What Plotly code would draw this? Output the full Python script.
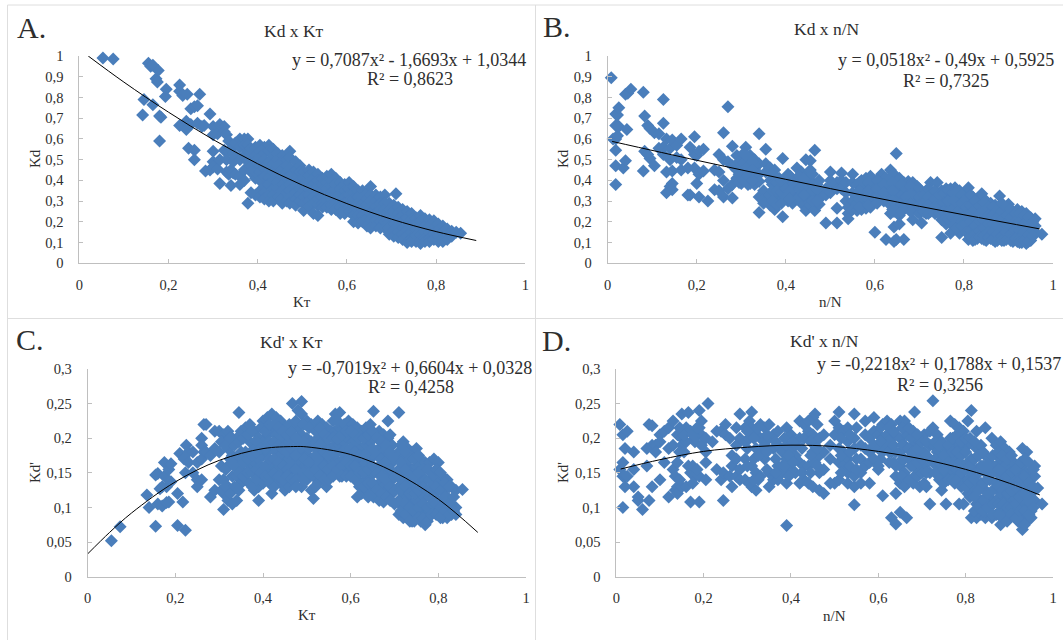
import plotly.graph_objects as go

W, H = 1063, 640

# Values, as (x, [y, y, ...]) columns
A_COLUMNS = [
(.053,[.99]),(.076,[.985]),(.142,[.715]),(.145,[.79]),(.155,[.965]),(.16,[.95]),(.165,[.955,.765]),(.172,[.89]),(.175,[.875]),(.177,[.93]),(.18,[.71,.59]),(.183,[.705]),(.193,[.805]),(.195,[.84]),(.225,[.86,.83,.665]),(.232,[.81]),(.24,[.685,.645]),(.242,[.815]),(.245,[.555]),(.25,[.745,.67]),(.258,[.755,.545,.50]),(.265,[.76,.675]),(.27,[.815]),(.275,[.66]),(.28,[.665]),(.283,[.445]),(.293,[.72,.45]),
(.30,[.66,.62,.54,.49,.465]),(.31,[.625,.455]),(.315,[.67,.385,.50]),(.325,[.66,.635,.545]),(.33,[.62,.50,.44]),(.335,[.59,.54,.43]),(.34,[.375,.55,.45]),(.345,[.53,.49,.435]),(.35,[.51,.43,.58]),(.36,[.60,.50,.42,.38,.56]),(.37,[.60,.57,.52,.45,.40]),(.378,[.60,.57,.54,.29,.49]),(.385,[.55,.52,.47,.44,.34]),(.395,[.56,.52,.49,.41,.44,.33]),
(.405,[.57,.54,.51,.47,.44,.40,.35,.32]),(.415,[.56,.53,.50,.46,.42,.37,.34,.31]),(.425,[.57,.54,.49,.45,.41,.38,.33,.30]),(.435,[.55,.52,.48,.44,.40,.36,.33,.30]),(.445,[.53,.50,.47,.43,.39,.36,.32]),(.455,[.52,.49,.45,.42,.38,.35,.31,.29]),(.465,[.50,.47,.44,.41,.37,.34,.30]),(.472,[.54,.51,.46,.42,.38,.35,.32,.29]),(.485,[.49,.45,.41,.37,.34,.31,.28]),(.495,[.47,.44,.40,.36,.33,.30]),
(.503,[.44,.41,.38,.35,.32,.29,.255]),(.515,[.45,.42,.39,.36,.33,.30,.27]),(.525,[.44,.41,.38,.35,.32,.29,.24]),(.535,[.43,.40,.37,.34,.31,.28,.23]),(.545,[.41,.38,.35,.32,.29,.27]),(.555,[.42,.39,.36,.33,.30,.27]),(.565,[.43,.40,.37,.34,.31,.28,.26]),(.575,[.41,.38,.35,.32,.29,.26]),(.585,[.39,.36,.33,.30,.27,.24]),(.595,[.38,.35,.32,.29,.26,.24]),
(.605,[.39,.36,.33,.30,.27,.25]),(.615,[.37,.34,.31,.28,.25,.23,.20]),(.625,[.35,.32,.29,.26,.23,.195]),(.635,[.35,.32,.29,.26,.23,.20]),(.645,[.34,.31,.28,.25,.22,.18]),(.653,[.37,.33,.30,.27,.24,.21,.17]),(.665,[.33,.30,.27,.24,.21,.18]),(.675,[.32,.29,.26,.23,.20,.17]),(.685,[.33,.29,.26,.23,.20,.17]),(.695,[.29,.26,.23,.20,.17,.14]),
(.705,[.28,.25,.22,.19,.16,.13]),(.71,[.335]),(.715,[.27,.24,.21,.18,.15,.125]),(.725,[.26,.23,.20,.17,.14,.115]),(.735,[.25,.22,.19,.16,.13,.10]),(.745,[.24,.21,.18,.15,.12,.105]),(.755,[.22,.19,.16,.13,.105]),(.765,[.23,.20,.17,.14,.11,.095]),(.775,[.215,.18,.15,.12,.105]),(.785,[.21,.18,.15,.12,.105]),(.795,[.205,.17,.14,.115]),
(.805,[.19,.16,.13,.105]),(.815,[.18,.15,.12,.105]),(.825,[.165,.14,.115]),(.835,[.155,.13]),(.845,[.15]),(.855,[.145]),
]
B_COLUMNS = [
(.008,[.895]),(.012,[.60]),(.018,[.72,.665,.545,.47,.38,.60]),(.022,[.715,.665,.615]),(.025,[.75,.66]),(.035,[.46]),(.04,[.815,.495]),(.043,[.645]),(.045,[.82]),(.052,[.84]),(.08,[.825,.445]),(.083,[.71,.54]),(.09,[.665,.525]),(.095,[.65,.505]),(.105,[.63,.47]),(.115,[.625,.555]),(.125,[.79,.675,.56,.525]),(.132,[.60,.44,.34]),(.14,[.555,.50,.37]),(.145,[.595,.445,.385,.355]),(.155,[.57,.51]),(.165,[.60,.50,.45]),(.18,[.46,.33]),(.185,[.56,.33]),(.195,[.61,.525,.46]),(.20,[.385,.52]),(.205,[.54,.43,.32]),(.215,[.55,.445]),(.225,[.30]),(.24,[.45,.355]),(.25,[.525,.44,.35]),(.26,[.63,.50,.40,.32]),(.27,[.755,.49,.36]),(.28,[.565,.47,.38,.315]),(.29,[.52,.45,.41]),
(.30,[.505,.46,.42,.385]),(.31,[.56,.49,.45,.40]),(.32,[.52,.47,.43,.385]),(.33,[.50,.46,.41,.38]),(.34,[.625,.48,.43,.395,.245,.32]),(.35,[.35,.31,.29]),(.355,[.55,.48,.44]),(.365,[.46,.40,.33,.28]),(.375,[.45,.36,.31,.26]),(.385,[.41,.37,.33,.30]),(.393,[.505,.36,.31,.225]),
(.405,[.43,.39,.34,.30]),(.415,[.38,.33,.29]),(.425,[.46,.41,.37,.31]),(.435,[.44,.39,.34,.29]),(.445,[.50,.42,.36,.31,.255]),(.455,[.495,.45,.40,.33,.28]),(.465,[.545,.37,.33,.255]),(.475,[.40,.35,.31,.285]),(.49,[.36,.33,.195]),(.50,[.44,.40,.37,.34]),(.515,[.39,.36,.265,.195]),(.525,[.435,.40,.36]),(.535,[.39,.34,.30]),(.54,[.24,.215,.27]),(.55,[.43,.39,.34,.30,.26]),(.56,[.38,.33,.29,.255]),(.57,[.40,.36,.32,.28,.26]),(.58,[.41,.37,.33,.29,.265]),(.59,[.42,.38,.34,.30,.27]),
(.60,[.38,.34,.30,.15]),(.615,[.43,.39,.35]),(.625,[.41,.37,.33,.115]),(.635,[.45,.36,.32,.28,.24]),(.643,[.43,.38,.33,.29,.25,.175,.105]),(.648,[.53,.115]),(.655,[.41,.36,.32,.27,.23,.19]),(.665,[.39,.34,.30,.26,.115]),(.675,[.395,.35,.31,.27]),(.685,[.39,.35,.31,.27,.21]),(.695,[.37,.33,.29,.25]),
(.705,[.34,.30,.26,.195]),(.715,[.35,.31,.27,.24]),(.725,[.39,.33,.29,.25]),(.74,[.39,.34,.30,.26]),(.75,[.35,.30,.26,.21,.125]),(.76,[.36,.32,.27,.23,.19]),(.77,[.36,.32,.28,.24,.20,.145]),(.78,[.365,.31,.27,.23,.19]),(.79,[.35,.31,.26,.22,.145]),
(.80,[.33,.29,.25,.21,.17]),(.81,[.365,.30,.26,.22,.18,.115]),(.82,[.32,.28,.24,.20,.16,.11]),(.83,[.30,.26,.22,.18,.14,.12]),(.84,[.335,.27,.23,.19,.15,.12]),(.85,[.30,.25,.21,.17,.13,.11]),(.86,[.29,.24,.20,.16,.12]),(.87,[.28,.24,.20,.16,.12,.105]),(.88,[.325,.27,.23,.19,.15,.12]),(.89,[.26,.22,.18,.14,.11]),
(.90,[.285,.24,.20,.16,.125]),(.91,[.25,.21,.17,.13,.105]),(.92,[.26,.22,.18,.14,.105]),(.93,[.25,.21,.17,.13,.10]),(.94,[.24,.20,.16,.12,.095]),(.95,[.22,.18,.14,.11]),(.96,[.215,.18,.15]),(.975,[.14]),
]
B_DENSE = [
(.295,[.49,.43,.39]),(.305,[.53,.48,.44,.40]),(.315,[.51,.47,.42,.38]),(.325,[.49,.45,.40]),(.37,[.43,.38,.35,.30]),(.38,[.39,.35,.28]),(.39,[.40,.34,.29]),(.40,[.41,.36,.32]),(.41,[.42,.35,.31]),(.43,[.42,.36,.32]),(.44,[.41,.37,.33]),(.46,[.43,.38,.35,.30]),(.47,[.38,.36,.30]),
(.565,[.39,.35,.31,.27]),(.585,[.39,.35,.31,.28]),(.605,[.40,.36,.32,.29]),(.62,[.38,.34,.30]),(.64,[.39,.35,.30,.26]),(.66,[.38,.33,.29,.25]),(.67,[.36,.32,.28]),(.68,[.37,.33,.29,.25]),(.70,[.36,.32,.28,.24]),(.71,[.33,.29,.25]),(.72,[.36,.32,.28,.24]),(.735,[.35,.31,.27,.24]),(.745,[.33,.28,.24]),(.755,[.34,.29,.25,.21]),(.765,[.35,.30,.25,.21]),(.775,[.34,.30,.26,.22,.18]),(.785,[.35,.29,.25,.21,.17]),(.795,[.33,.29,.24,.20,.18]),
(.805,[.31,.27,.23,.19,.15]),(.815,[.33,.28,.24,.20,.16,.13]),(.825,[.30,.26,.22,.18,.14,.115]),(.835,[.28,.24,.20,.16,.13]),(.845,[.29,.25,.21,.17,.13,.115]),(.855,[.27,.23,.19,.15,.125]),(.865,[.27,.23,.19,.15,.115]),(.875,[.26,.22,.18,.14,.11]),(.885,[.29,.25,.21,.17,.13,.11]),(.895,[.27,.23,.19,.15,.115]),(.905,[.26,.22,.18,.14,.11]),(.915,[.24,.20,.16,.12]),(.925,[.24,.20,.16,.12,.10]),(.935,[.23,.19,.15,.11]),(.945,[.22,.18,.14,.105]),(.955,[.20,.16,.13]),
]
C_COLUMNS = [
(.054,[.052]),(.074,[.072]),(.135,[.118]),(.14,[.10]),(.155,[.147,.073]),(.16,[.149,.105]),(.165,[.127]),(.17,[.13,.102]),(.175,[.165,.145]),(.18,[.13,.107]),(.185,[.108,.155]),(.19,[.163,.137]),(.205,[.12,.074]),(.21,[.178]),(.217,[.108]),(.22,[.172,.17]),(.223,[.067,.15]),(.225,[.19]),(.23,[.18,.165]),(.24,[.18,.15]),(.25,[.14,.13,.165]),(.26,[.20,.19,.17,.14]),(.265,[.22,.18]),(.27,[.22,.18]),(.28,[.175,.115]),(.29,[.21,.185,.125]),
(.30,[.21,.18,.14]),(.31,[.205,.14,.12,.097]),(.32,[.21,.185,.16,.13,.11]),(.33,[.20,.175,.145,.105]),(.34,[.20,.165,.145,.11]),(.345,[.237]),(.35,[.21,.18,.155,.135]),(.36,[.215,.18,.14]),(.37,[.22,.195,.16,.135]),(.38,[.21,.185,.165,.125]),(.39,[.20,.17,.13,.11]),
(.40,[.225,.195,.175,.135]),(.41,[.23,.205,.18,.155]),(.42,[.235,.21,.19,.16,.12]),(.43,[.23,.205,.18,.155,.14]),(.44,[.225,.20,.175,.15,.135]),(.45,[.215,.19,.165,.14,.125]),(.46,[.22,.195,.17,.15,.13]),(.467,[.25]),(.48,[.24,.215,.19,.165,.145]),(.488,[.253,.235,.205,.18,.155,.13]),
(.50,[.225,.20,.175,.16,.14]),(.51,[.22,.195,.17,.15,.125]),(.515,[.113,.215,.19,.165,.145]),(.525,[.225,.20,.175,.155,.135]),(.535,[.22,.195,.17,.15]),(.545,[.215,.19,.165,.145,.13]),(.555,[.21,.185,.165]),(.565,[.235,.21,.19,.17,.15]),(.575,[.237,.215,.19,.165,.145]),(.585,[.22,.195,.17,.15]),(.595,[.225,.20,.175,.155]),
(.605,[.22,.195,.17,.15]),(.615,[.215,.19,.165,.14,.115]),(.625,[.21,.185,.16,.135,.12]),(.635,[.215,.19,.165,.14,.125]),(.645,[.22,.195,.17,.145,.125]),(.652,[.239,.20,.175,.15,.115]),(.665,[.21,.185,.16,.135,.11]),(.675,[.205,.18,.155,.13,.108]),(.685,[.225,.20,.175,.15,.125]),(.695,[.19,.165,.14,.12]),
(.71,[.237,.18,.155,.13,.09,.11]),(.72,[.195,.17,.145,.12,.10,.085]),(.73,[.185,.16,.135,.11,.09]),(.74,[.18,.155,.13,.105,.08]),(.75,[.185,.16,.135,.11,.085]),(.76,[.17,.145,.12,.095,.08]),(.77,[.165,.14,.115,.09,.075]),(.78,[.165,.14,.115,.095]),(.79,[.17,.145,.12,.095]),
(.80,[.165,.135,.11,.09]),(.81,[.145,.125,.105,.085]),(.82,[.14,.115,.095,.085]),(.83,[.13,.105,.09]),(.84,[.125,.10,.09]),(.855,[.126]),
]
C_DENSE = [
(.305,[.195,.16,.125]),(.315,[.19,.155,.13]),(.325,[.20,.17,.12]),(.335,[.19,.16,.13]),(.345,[.195,.175,.15,.125]),(.355,[.2,.165,.145]),(.365,[.205,.17,.15]),(.375,[.21,.175,.15,.13]),(.385,[.195,.18,.155,.14]),(.395,[.215,.185,.16,.15]),
(.405,[.21,.185,.16,.145]),(.415,[.22,.195,.17,.145,.135]),(.425,[.22,.195,.17,.15,.13]),(.435,[.215,.19,.165,.145]),(.445,[.21,.185,.16,.14]),(.455,[.205,.18,.155,.145]),(.465,[.21,.185,.16,.14]),(.475,[.225,.2,.175,.155,.14,.13]),(.493,[.22,.195,.17,.15,.14]),(.505,[.215,.185,.165,.15]),(.52,[.21,.185,.175,.155,.13]),(.53,[.215,.19,.165,.145]),(.54,[.205,.18,.16,.14]),(.55,[.2,.175,.155,.14]),(.56,[.225,.2,.18,.16,.145]),(.57,[.225,.2,.18,.155]),(.58,[.205,.18,.16,.145]),(.59,[.21,.185,.165,.145]),
(.60,[.21,.185,.16,.145]),(.61,[.205,.18,.16,.14]),(.62,[.2,.175,.15,.13]),(.63,[.2,.175,.15,.13]),(.64,[.205,.18,.155,.135,.115]),(.65,[.21,.185,.16,.135]),(.66,[.2,.175,.15,.125]),(.67,[.195,.17,.145,.12]),(.68,[.19,.165,.14,.115]),(.69,[.205,.18,.155,.13,.11]),(.70,[.17,.145,.125,.105]),(.715,[.19,.165,.14,.125,.095]),(.725,[.18,.155,.13,.105,.09]),(.735,[.17,.145,.12,.10,.08]),(.745,[.17,.145,.12,.095,.08]),(.755,[.175,.15,.125,.10,.085]),(.765,[.155,.13,.105,.085]),(.775,[.155,.125,.10,.08]),(.785,[.15,.13,.105,.09]),(.795,[.155,.13,.105,.09]),(.805,[.15,.125,.10,.085]),(.815,[.135,.115,.095]),(.825,[.13,.105,.09]),(.835,[.115,.095]),
]
D_COLUMNS = [
(.008,[.22,.155]),(.015,[.205,.165,.145,.10]),(.02,[.185,.13,.145]),(.025,[.21,.145]),(.04,[.18,.13,.155]),(.05,[.11,.115]),(.06,[.097]),(.07,[.185,.16]),(.075,[.22,.11]),(.082,[.218,.13,.19]),(.09,[.19,.18]),(.10,[.205,.14,.195]),(.11,[.21,.165]),(.12,[.215,.185,.115]),(.13,[.225,.155,.19]),(.135,[.145,.125]),(.14,[.205,.165,.13,.12]),(.15,[.235,.20,.19,.13]),(.16,[.215,.195,.13]),(.165,[.237,.16]),(.17,[.21,.15,.108]),(.18,[.195,.145,.20]),(.19,[.24,.215,.145,.108]),(.195,[.225,.205,.19]),
(.205,[.165,.14,.20,.18]),(.21,[.25]),(.22,[.195]),(.23,[.21,.155]),(.24,[.21,.14]),(.245,[.15,.11]),(.25,[.205,.22]),(.26,[.20,.145]),(.265,[.175,.16,.13]),(.275,[.215,.19,.17,.145]),(.283,[.235,.20,.155,.14]),(.295,[.215,.195,.17,.14]),
(.305,[.225,.20,.135]),(.31,[.238,.215,.16,.13]),(.32,[.205,.185,.15,.125]),(.33,[.22,.20,.18,.145]),(.34,[.215,.19,.17]),(.35,[.22,.20,.15,.13]),(.36,[.205,.185,.14]),(.37,[.21,.19,.16,.14]),(.38,[.18,.16,.15]),(.39,[.215,.19,.17,.135,.074]),
(.40,[.205,.18,.155]),(.41,[.175,.15,.19]),(.42,[.225,.20,.165,.135]),(.43,[.22,.20,.16,.14]),(.44,[.225,.21,.16,.135]),(.45,[.23,.205,.18,.13]),(.455,[.235,.19,.165]),(.465,[.20,.175,.125,.15]),(.475,[.205,.18,.12,.155]),(.49,[.19,.17,.135]),
(.50,[.225,.205,.135]),(.51,[.238,.215,.185,.14,.165]),(.52,[.21,.18,.16]),(.53,[.215,.195,.17,.15,.135]),(.545,[.235,.20,.185,.145,.104,.13]),(.56,[.19,.17,.15,.135]),(.57,[.225,.205,.185,.16]),(.58,[.20,.18,.165,.135]),(.59,[.23,.21,.19,.17]),
(.60,[.205,.185,.155,.16]),(.61,[.22,.20,.18,.117]),(.62,[.225,.205,.19]),(.63,[.22,.20,.18,.085]),(.64,[.205,.18,.16,.145,.12,.076]),(.65,[.225,.20,.18,.16,.135,.093]),(.66,[.225,.19,.17,.15,.13]),(.665,[.085,.205]),(.675,[.20,.18,.16]),(.683,[.238,.19,.17,.145]),(.695,[.195,.175,.155,.13]),
(.705,[.205,.18,.16,.135]),(.718,[.21,.19,.17,.15,.105]),(.725,[.254,.215,.19,.165]),(.735,[.205,.18,.16]),(.745,[.195,.17,.15,.125]),(.755,[.185,.165,.145,.105]),(.765,[.225,.20,.175,.155]),(.775,[.22,.19,.17,.15,.135]),(.785,[.215,.19,.165,.145,.105]),(.795,[.21,.185,.16,.14,.105]),
(.805,[.225,.19,.165,.14,.12]),(.813,[.24,.17,.15,.125,.085]),(.825,[.21,.185,.155,.13,.105,.085]),(.835,[.19,.16,.135,.11,.09]),(.845,[.215,.175,.15,.125,.10,.085]),(.855,[.165,.14,.115,.10]),(.86,[.20,.085]),(.87,[.19,.16,.135,.11,.09]),(.88,[.195,.17,.145,.12,.095,.075]),(.89,[.185,.16,.135,.11,.09]),
(.90,[.18,.155,.13,.105,.085]),(.91,[.165,.14,.115,.09]),(.92,[.15,.125,.10,.08]),(.93,[.185,.16,.135,.11,.085,.068]),(.94,[.18,.15,.125,.10,.08]),(.95,[.145,.12,.095,.085]),(.958,[.16,.145,.11]),(.965,[.128]),(.975,[.105]),
]
D_DENSE = [
(.145,[.215,.18,.14]),(.155,[.205,.18]),(.175,[.205,.16,.135]),(.185,[.215,.155]),(.3,[.21,.185,.16]),(.315,[.2,.17,.14]),(.325,[.215,.175,.14]),(.345,[.205,.18,.155]),(.365,[.195,.17,.15]),(.385,[.2,.16]),(.395,[.175,.145]),(.405,[.195,.165]),(.425,[.185,.15]),(.445,[.195,.175,.15]),(.46,[.22,.185,.16]),(.515,[.2,.175,.15]),(.535,[.205,.18,.16]),(.55,[.215,.17,.155]),
(.605,[.215,.195,.17]),(.625,[.215,.18,.165]),(.635,[.21,.19,.165]),(.655,[.215,.19,.17,.145]),(.67,[.215,.185,.17,.14]),(.68,[.21,.18,.16,.135]),(.69,[.205,.185,.165,.145]),(.70,[.195,.17,.15]),(.71,[.195,.175,.15,.13]),(.73,[.195,.17,.15]),(.74,[.19,.165,.14]),(.75,[.175,.155,.135]),(.76,[.19,.165,.14]),(.77,[.2,.18,.16,.14]),(.78,[.205,.18,.155,.14]),(.79,[.195,.175,.15,.13]),
(.80,[.2,.18,.155,.13]),(.81,[.2,.16,.135,.115]),(.82,[.195,.17,.14,.115,.095]),(.83,[.175,.15,.125,.10]),(.84,[.18,.16,.135,.11,.095]),(.85,[.16,.14,.12,.10]),(.862,[.175,.15,.125,.105,.09]),(.875,[.18,.155,.13,.105,.09]),(.885,[.175,.15,.125,.105,.085]),(.895,[.17,.145,.12,.10,.08]),(.905,[.175,.15,.125,.10,.09]),(.915,[.155,.13,.105,.085]),(.925,[.165,.14,.115,.095,.08]),(.935,[.17,.145,.12,.095,.075]),(.945,[.165,.135,.11,.09]),(.955,[.155,.13,.10]),
]

# Trend lines
A_TREND_X = [.02,.1,.2,.3,.4,.5,.6,.7,.8,.89]
A_TREND_Y = [1.0,.874,.729,.597,.480,.377,.288,.213,.153,.110]
B_TREND_X = [.01,.2,.4,.6,.8,.97]
B_TREND_Y = [.588,.497,.405,.317,.234,.166]
C_TREND_X = [0,.05,.1,.2,.3,.4,.47,.5,.6,.7,.8,.89]
C_TREND_Y = [.033,.064,.092,.137,.168,.185,.188,.1875,.1765,.151,.112,.064]
D_TREND_X = [.01,.1,.2,.3,.4,.5,.6,.7,.8,.9,.97]
D_TREND_Y = [.1555,.169,.181,.187,.190,.188,.181,.170,.155,.135,.118]

X_TICKS = [0,.2,.4,.6,.8,1]
X_LABELS = ["0","0,2","0,4","0,6","0,8","1"]
Y1_TICKS = [0,.1,.2,.3,.4,.5,.6,.7,.8,.9,1]
Y1_LABELS = ["0","0,1","0,2","0,3","0,4","0,5","0,6","0,7","0,8","0,9","1"]
Y2_TICKS = [0,.05,.1,.15,.2,.25,.3]
Y2_LABELS = ["0","0,05","0,1","0,15","0,2","0,25","0,3"]

FONT = "Liberation Serif"
INK = "#2E2E2E"
BLUE = "#4A7EBB"
GREY = "#BFBFBF"
KT = "Kᴛ"

PANELS = [
 dict(cols=A_COLUMNS, tx=A_TREND_X, ty=A_TREND_Y, box=(79.3,525.3,56,263.3), yt=Y1_TICKS, yl=Y1_LABELS, ymax=1),
 dict(cols=B_COLUMNS+B_DENSE, tx=B_TREND_X, ty=B_TREND_Y, box=(607.7,1053,56,263.3), yt=Y1_TICKS, yl=Y1_LABELS, ymax=1),
 dict(cols=C_COLUMNS+C_DENSE, tx=C_TREND_X, ty=C_TREND_Y, box=(87.7,526,369,576.7), yt=Y2_TICKS, yl=Y2_LABELS, ymax=.3),
 dict(cols=D_COLUMNS+D_DENSE, tx=D_TREND_X, ty=D_TREND_Y, box=(616.3,1053,369,576.7), yt=Y2_TICKS, yl=Y2_LABELS, ymax=.3),
]

fig = go.Figure()
for i, p in enumerate(PANELS, 1):
    x0, x1, y0, y1 = p["box"]
    xs = [c[0] for c in p["cols"] for _ in c[1]]
    ys = [v for c in p["cols"] for v in c[1]]
    ax = "" if i == 1 else str(i)
    fig.add_trace(go.Scatter(x=xs, y=ys, mode="markers", xaxis="x"+ax, yaxis="y"+ax,
        marker=dict(symbol="diamond", size=10, color=BLUE, line=dict(width=0)), showlegend=False, cliponaxis=False))
    fig.add_trace(go.Scatter(x=p["tx"], y=p["ty"], mode="lines", xaxis="x"+ax, yaxis="y"+ax,
        line=dict(color="#000000", width=1, shape="spline"), showlegend=False, cliponaxis=False))
    common = dict(showgrid=False, zeroline=False, showline=True, linecolor=GREY, linewidth=1,
                  ticks="inside", ticklen=4, tickcolor=GREY, tickwidth=1,
                  tickfont=dict(family=FONT, size=14.5, color=INK))
    fig.update_layout({
        "xaxis"+ax: dict(domain=[x0/W, x1/W], range=[0,1], anchor="y"+ax, tickvals=X_TICKS, ticktext=X_LABELS, ticklabelstandoff=8, **common),
        "yaxis"+ax: dict(domain=[1-y1/H, 1-y0/H], range=[0,p["ymax"]], anchor="x"+ax, tickvals=p["yt"], ticktext=p["yl"], ticklabelstandoff=12, **common),
    })

def label(px, py, text, size, rot=0):
    fig.add_annotation(x=px/W, y=1-py/H, xref="paper", yref="paper", text=text, showarrow=False,
                       font=dict(family=FONT, size=size, color=INK), textangle=rot,
                       xanchor="center", yanchor="middle")

for args in [
    (31.5,28,"A.",30),(557,26,"B.",30),(30,339,"C.",30),(556,340,"D.",30),
    (294,31,"Kd x "+KT,17.5),(826.6,29,"Kd x n/N",17.5),(291.7,341.7,"Kd' x "+KT,17.5),(824,341,"Kd' x n/N",17.5),
    (409,60,"y = 0,7087x² - 1,6693x + 1,0344",18),(409.5,79,"R² = 0,8623",18),
    (945.8,60.5,"y = 0,0518x² - 0,49x + 0,5925",18),(946,81,"R² = 0,7325",18),
    (410,368,"y = -0,7019x² + 0,6604x + 0,0328",18),(411,387,"R² = 0,4258",18),
    (939.3,364,"y = -0,2218x² + 0,1788x + 0,1537",18),(940,385,"R² = 0,3256",18),
    (302,302,KT,15),(830.6,302,"n/N",15),(307,615,KT,15),(834,616,"n/N",15),
]:
    label(*args)
for args in [(35,159,"Kd",15,-90),(563,159,"Kd",15,-90),(35,473,"Kd'",15,-90),(563,473,"Kd'",15,-90)]:
    label(*args)

def rule(x0, y0, x1, y1):
    fig.add_shape(type="line", xref="paper", yref="paper", x0=x0/W, x1=x1/W, y0=1-y0/H, y1=1-y1/H,
                  line=dict(color="#DEDEDE", width=1))
for seg in [(7.5,5,1063,5),(7.5,5,7.5,640),(535.5,5,535.5,640),(7.5,318.5,1063,318.5)]:
    rule(*seg)

fig.update_layout(width=W, height=H, margin=dict(l=0,r=0,t=0,b=0,autoexpand=False), paper_bgcolor="white", plot_bgcolor="white",
                  showlegend=False, autosize=False)
fig.write_html("out.html", config={"displayModeBar": False},
               post_script="document.body.style.margin='0';document.body.style.overflow='hidden';")
